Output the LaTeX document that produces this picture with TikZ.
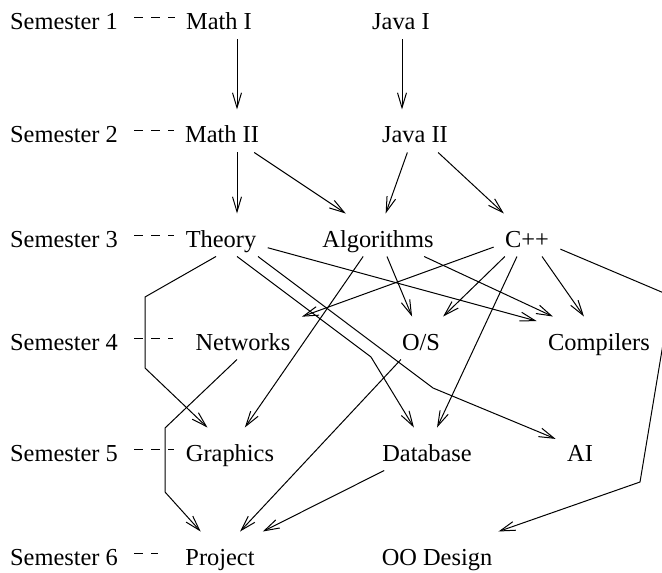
\documentclass[tikz,border=0pt]{standalone}
\usepackage{fontspec}
\setmainfont{Liberation Serif}
\usetikzlibrary{arrows.meta}

\begin{document}
\begin{tikzpicture}[x=0.5pt, y=-0.5pt, line width=0.5pt, >={Straight Barb[length=7.5pt,width=4.5pt]},
    every node/.style={font=\fontsize{12.2pt}{14pt}\selectfont, anchor=base, text height=16.5pt, text depth=4.5pt, inner ysep=0pt},
    course/.style={inner xsep=5.5pt},
    sem/.style={inner xsep=8pt},
    semlink/.style={dash pattern=on 4.5pt off 4pt}]
    \useasboundingbox (0,0) rectangle (662,572);
    \clip (0,0) rectangle (662,572);
    \node[sem] (sem1) at (64,30) {Semester 1};
    \node[sem] (sem2) at (64,143) {Semester 2};
    \node[sem] (sem3) at (64,247) {Semester 3};
    \node[sem] (sem4) at (64,350) {Semester 4};
    \node[sem] (sem5) at (64,461) {Semester 5};
    \node[sem] (sem6) at (64,565) {Semester 6};
    \node[course] (mathI) at (219,30) {Math I};
    \node[course] (javaI) at (401,30) {Java I};
    \node[course] (mathII) at (222,143) {Math II};
    \node[course] (javaII) at (415,143) {Java II};
    \node[course] (theory) at (221,247) {Theory};
    \node[course] (algo) at (378,247) {Algorithms};
    \node[course] (cpp) at (527,247) {C++};
    \node[course] (networks) at (243,350) {Networks};
    \node[course] (os) at (421,350) {O/S};
    \node[course] (compilers) at (599,350) {Compilers};
    \node[course] (graphics) at (230,461) {Graphics};
    \node[course] (database) at (427,461) {Database};
    \node[course] (ai) at (580,461) {AI};
    \node[course] (project) at (220,565) {Project};
    \node[course] (oodesign) at (437,565) {OO Design};
    \coordinate (thgBend1) at (145,297);
    \coordinate (thgBend2) at (145,368);
    \coordinate (thdBend) at (371,357);
    \coordinate (thaBend) at (433,388);
    \coordinate (cooBend1) at (671,296);
    \coordinate (cooBend2) at (640,482);
    \coordinate (netBend1) at (165,428);
    \coordinate (netBend2) at (165,492);
    \draw[semlink] (sem1) -- (mathI);
    \draw[semlink] (sem2) -- (mathII);
    \draw[semlink] (sem3) -- (theory);
    \draw[semlink, shorten >=5.5pt] (sem4) -- (networks);
    \draw[semlink] (sem5) -- (graphics);
    \draw[semlink, shorten >=8pt] (sem6) -- (project);
    \draw[->] ([xshift=9pt]mathI.south) -- ([xshift=7.5pt]mathII.north);
    \draw[->] ([xshift=0.5pt]javaI.south) -- ([xshift=-6.5pt]javaII.north);
    \draw[->] ([xshift=7.5pt]mathII.south) -- ([xshift=8pt]theory.north);
    \draw[->] (mathII) -- (algo);
    \draw[->] (javaII) -- (algo);
    \draw[->] (javaII) -- (cpp);
    \draw[->] ([xshift=-2.5pt]theory.south) -- (thgBend1) -- (thgBend2) -- (graphics);
    \draw[->] ([xshift=8pt]theory.south) -- (thdBend) -- (database);
    \draw[->] ([xshift=18.5pt]theory.south) -- (thaBend) -- (ai);
    \draw[->] (theory) -- (compilers);
    \draw[->] (algo) -- (graphics);
    \draw[->] (algo) -- (os);
    \draw[->] (algo) -- (compilers);
    \draw[->] (cpp) -- (networks);
    \draw[->] (cpp) -- (os);
    \draw[->] (cpp) -- (database);
    \draw[->] (cpp) -- (compilers);
    \draw[->] (cpp) -- (cooBend1) -- (cooBend2) -- (oodesign);
    \draw[->] ([xshift=-3pt]networks.south) -- (netBend1) -- (netBend2) -- (project);
    \draw[->] (os) -- (project);
    \draw[->] (database) -- (project);
\end{tikzpicture}
\end{document}
